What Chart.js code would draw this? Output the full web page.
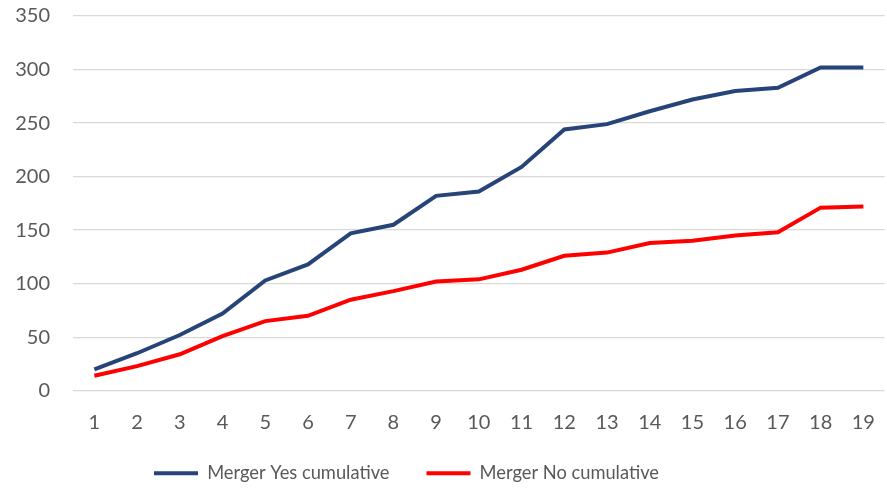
<!DOCTYPE html>
<html><head><meta charset="utf-8">
<script src="https://cdn.jsdelivr.net/npm/chart.js@4"></script>
<style>html,body{margin:0;padding:0;background:#fff}#wrap{width:887px;height:489px}</style>
</head><body><div id="wrap"><canvas id="c" width="887" height="489"></canvas></div>
<script>
const categories = ["1","2","3","4","5","6","7","8","9","10","11","12","13","14","15","16","17","18","19"];
const mergerYes = [20,35,52,72,103,118,147,155,182,186,209,244,249,261,272,280,283,302,302];
const mergerNo = [14,23,34,51,65,70,85,93,102,104,113,126,129,138,140,145,148,171,172];
const yTicks = [0,50,100,150,200,250,300,350];
const seriesNames = ["Merger Yes cumulative","Merger No cumulative"];
const colors = ["#264478","#ff0000"];

const font = {family:"Lato, 'Open Sans', sans-serif", size:20};
const legendShift = {id:'legendShift', afterLayout(chart){ const l=chart.legend; if(l){ l.left-=36; l.right-=36; l.top-=8; l.bottom-=8; } }};
new Chart(document.getElementById('c'), {
  type:'line',
  data:{labels:categories, datasets:[
    {label:seriesNames[0], data:mergerYes, borderColor:colors[0], backgroundColor:colors[0], borderWidth:4, pointRadius:0, tension:0},
    {label:seriesNames[1], data:mergerNo, borderColor:colors[1], backgroundColor:colors[1], borderWidth:4, pointRadius:0, tension:0}
  ]},
  plugins:[legendShift],
  options:{
    responsive:false, animation:false,
    layout:{padding:{top:16,right:2,left:0,bottom:-11.5}},
    plugins:{
      tooltip:{enabled:false},
      legend:{position:'bottom', labels:{
        color:'#595959', font:{family:font.family,size:18.3}, boxWidth:44, boxHeight:4, padding:37,
        generateLabels:(chart)=>chart.data.datasets.map((d,i)=>({text:d.label, fillStyle:d.borderColor, strokeStyle:d.borderColor, lineWidth:0, datasetIndex:i, fontColor:'#595959'}))
      }}
    },
    scales:{
      x:{grid:{display:false}, border:{display:false}, offset:true,
         ticks:{color:'#595959', font, padding:12, maxRotation:0, autoSkip:false},
         afterFit:(s)=>{s.height=44.5;}},
      y:{min:0,max:350, border:{display:false},
         grid:{color:'#d9d9d9', lineWidth:1.3, drawTicks:false},
         afterBuildTicks:(s)=>{s.ticks=yTicks.map(v=>({value:v}));},
         ticks:{color:'#595959', font, padding:23},
         afterFit:(s)=>{s.width=73; s.paddingTop=0; s.paddingBottom=0;}}
    }
  }
});
</script></body></html>
